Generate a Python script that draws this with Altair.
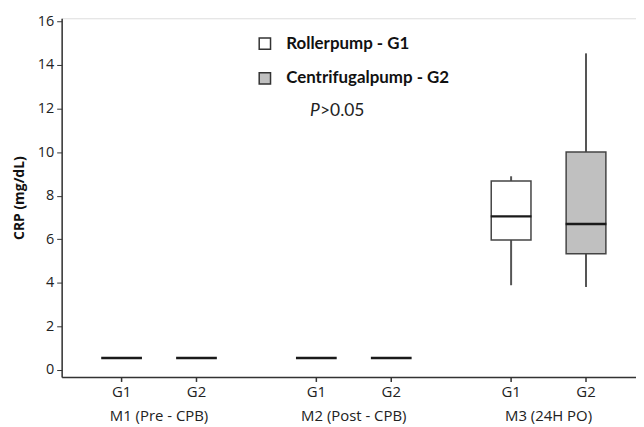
import altair as alt
import pandas as pd

# ---- data ----
periods = ["M1 (Pre - CPB)", "M2 (Post - CPB)", "M3 (24H PO)"]
groups = ["G1", "G2"]
legend_labels = ["Rollerpump - G1", "Centrifugalpump - G2"]

row_period = ["M1 (Pre - CPB)", "M1 (Pre - CPB)", "M2 (Post - CPB)", "M2 (Post - CPB)", "M3 (24H PO)", "M3 (24H PO)"]
row_group = ["G1", "G2", "G1", "G2", "G1", "G2"]
mins = [0.55, 0.55, 0.55, 0.55, 3.89, 3.81]
q1s = [0.55, 0.55, 0.55, 0.55, 5.97, 5.33]
medians = [0.55, 0.55, 0.55, 0.55, 7.05, 6.70]
q3s = [0.55, 0.55, 0.55, 0.55, 8.67, 10.00]
maxs = [0.55, 0.55, 0.55, 0.55, 8.89, 14.53]

df = pd.DataFrame({
    "period": row_period,
    "group": row_group,
    "label": [legend_labels[groups.index(g)] for g in row_group],
    "min": mins, "q1": q1s, "median": medians, "q3": q3s, "max": maxs,
})

W, H = 578, 361
AXIS_FONT = "Open Sans"

x_enc = alt.X("period:N", sort=periods,
              scale=alt.Scale(domain=periods, range=[0, 588], paddingInner=0, paddingOuter=0),
              axis=alt.Axis(title=None, ticks=False, labelPadding=32, labelAngle=0,
                            labelFont=AXIS_FONT, labelFontSize=15, labelColor="#222",
                            labelLimit=0,
                            domainColor="#333", domainWidth=1.5))
xo_enc = alt.XOffset("group:N", sort=groups,
                     scale=alt.Scale(domain=groups, paddingInner=0, paddingOuter=0.3))
y_scale = alt.Scale(domain=[-0.32, 16.14], nice=False, zero=False)
y_axis = alt.Axis(title="CRP (mg/dL)", values=list(range(0, 17, 2)), grid=False,
                  titleFont=AXIS_FONT, titleFontSize=14, titleFontWeight="bold", titleColor="#111",
                  titlePadding=11,
                  labelFont=AXIS_FONT, labelFontSize=14.5, labelColor="#222", labelPadding=3,
                  tickSize=5, tickColor="#333", domainColor="#333", domainWidth=1.5)

base = alt.Chart(df)

whisk_lo = base.mark_rule(color="#555", strokeWidth=2).encode(
    x=x_enc, xOffset=xo_enc,
    y=alt.Y("min:Q", scale=y_scale, axis=y_axis), y2="q1:Q")
whisk_hi = base.mark_rule(color="#555", strokeWidth=2).encode(
    x=x_enc, xOffset=xo_enc, y=alt.Y("q3:Q", scale=y_scale), y2="max:Q")

boxes = base.transform_filter("datum.q3 > datum.q1").mark_bar(
    size=40, stroke="#444", strokeWidth=1.5, opacity=1).encode(
    x=x_enc, xOffset=xo_enc,
    y=alt.Y("q1:Q", scale=y_scale), y2="q3:Q",
    fill=alt.Fill("label:N", sort=legend_labels,
                  scale=alt.Scale(domain=legend_labels, range=["white", "#c0c0c0"]),
                  legend=alt.Legend(title=None, orient="none", legendX=196, legendY=17,
                                    symbolType="square", symbolSize=130,
                                    symbolStrokeColor="#333", symbolStrokeWidth=1.5,
                                    symbolOpacity=1, labelLimit=0,
                                    labelFont="Lato", labelFontSize=17, labelFontWeight="bold",
                                    labelColor="#111", labelOffset=13, rowPadding=16, padding=0)))

med = base.mark_tick(size=41, thickness=2.5, color="#1a1a1a", opacity=1).encode(
    x=x_enc, xOffset=xo_enc, y=alt.Y("median:Q", scale=y_scale))

gticks = base.mark_rule(color="#333", strokeWidth=1.5).encode(
    x=x_enc, xOffset=xo_enc, y=alt.value(H), y2=alt.value(H + 5))
glabels = base.mark_text(font=AXIS_FONT, fontSize=15, color="#222", baseline="middle").encode(
    x=x_enc, xOffset=xo_enc, y=alt.value(H + 15), text="group:N")

p_italic = alt.Chart(pd.DataFrame({"t": ["P"]})).mark_text(
    font="Lato", fontSize=17.5, fontStyle="italic", color="#222", align="left", baseline="middle"
).encode(x=alt.value(250), y=alt.value(93), text="t:N")
p_rest = alt.Chart(pd.DataFrame({"t": [">0.05"]})).mark_text(
    font="Lato", fontSize=17.5, color="#222", align="left", baseline="middle"
).encode(x=alt.value(260), y=alt.value(93), text="t:N")

chart = alt.layer(whisk_lo, whisk_hi, boxes, med, gticks, glabels, p_italic, p_rest).properties(
    width=W, height=H,
    autosize=alt.AutoSizeParams(type="none"),
    padding={"left": 54, "top": 9, "right": 0, "bottom": 49},
).configure_view(stroke=None).configure(background="white")

chart.save("out.html", embed_options={"renderer": "svg", "actions": False})
